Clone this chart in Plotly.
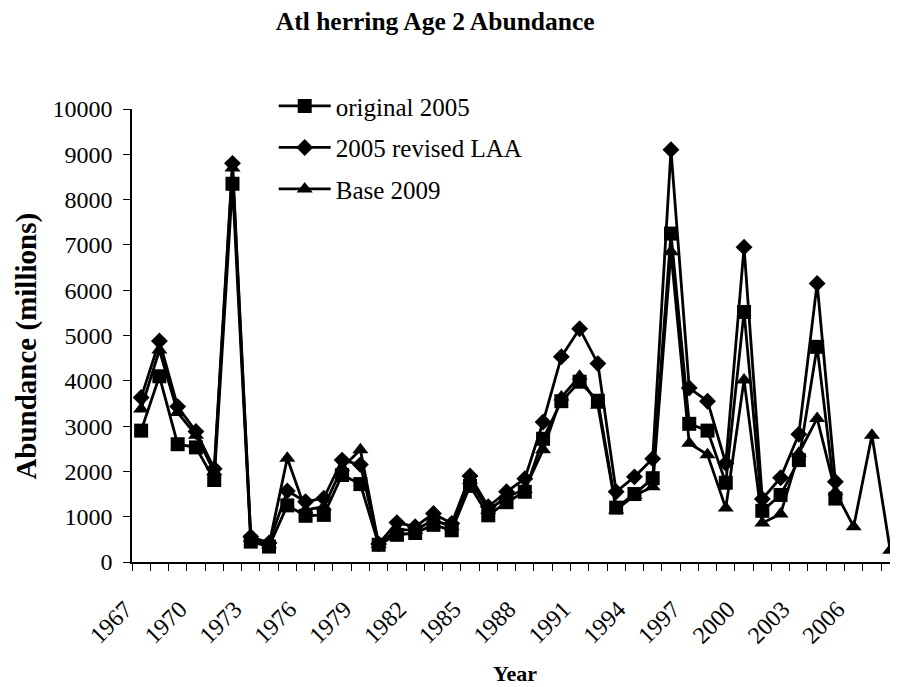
import plotly.graph_objects as go

# Atlantic herring age-2 abundance (millions)
years = list(range(1967, 2009))

original_2005 = [2900, 4100, 2600, 2530, 1810, 8350, 450, 340, 1250, 1020,
                 1040, 1920, 1720, 380, 600, 640, 820, 700, 1680, 1030,
                 1320, 1550, 2720, 3550, 3980, 3560, 1200, 1500, 1850, 7250,
                 3050, 2900, 1750, 5520, 1130, 1480, 2250, 4750, 1400]

revised_laa = [3630, 4880, 3430, 2880, 2060, 8800, 560, 420, 1570, 1330,
               1410, 2250, 2150, 400, 870, 780, 1070, 850, 1900, 1220,
               1550, 1840, 3090, 4530, 5150, 4380, 1550, 1880, 2280, 9100,
               3840, 3550, 2180, 6950, 1390, 1860, 2820, 6150, 1770]

base_2009 = [3380, 4680, 3300, 2800, 1990, 8700, 520, 380, 2290, 1150,
             1220, 2080, 2480, 390, 720, 700, 930, 780, 1800, 1140,
             1440, 1600, 2480, 3640, 4100, 3460, 1150, 1470, 1660, 6850,
             2620, 2370, 1190, 4020, 860, 1060, 2400, 3170, 1550, 780,
             2800, 260]

label_years = list(range(1967, 2007, 3))

FONT = "Liberation Serif, Times New Roman, serif"

# the page body adds an 8px margin, so the figure is 8px smaller
W, H = 890, 679

series = [
    ("original 2005", original_2005, "square", 14),
    ("2005 revised LAA", revised_laa, "diamond", 13),
    ("Base 2009", base_2009, "triangle-up", 14),
]

fig = go.Figure()
for name, vals, sym, size in series:
    fig.add_trace(go.Scatter(
        x=years[:len(vals)], y=vals, name=name, legendgroup=name,
        mode="lines+markers",
        line=dict(color="black", width=2.8),
        marker=dict(symbol=sym, size=size, color="black"),
        cliponaxis=False,
    ))

fig.update_layout(
    width=W, height=H,
    margin=dict(l=124, r=0, t=101, b=125, autoexpand=False),
    paper_bgcolor="white", plot_bgcolor="white",
    font=dict(family=FONT, size=24, color="black"),
    title=dict(text="<b>Atl herring Age 2 Abundance</b>",
               font=dict(size=25.5), x=0.48, xanchor="center",
               y=1 - 4 / H, yanchor="top", pad=dict(t=0, b=0)),
    legend=dict(x=0.185, y=1.057, xanchor="left", yanchor="top",
                bgcolor="rgba(0,0,0,0)", font=dict(size=25),
                tracegroupgap=6, itemwidth=52),
    showlegend=True,
    annotations=[dict(text="<b>Abundance (millions)</b>", textangle=-90,
                      xref="paper", yref="paper", x=-0.1375, y=0.477,
                      xanchor="center", yanchor="middle", showarrow=False,
                      font=dict(size=29))],
)

fig.update_xaxes(
    range=[1966.5, 1966.5 + 766 / 18.27],
    tickmode="array", tickvals=label_years,
    ticktext=[str(y) for y in label_years],
    tickangle=-45, ticks="",
    ticklabelshift=-16, ticklabelstandoff=22,
    showline=True, linecolor="black", linewidth=1.5,
    showgrid=False, zeroline=False, automargin=False,
    minor=dict(tickmode="linear", tick0=1966.5, dtick=1,
               ticks="outside", ticklen=7, tickcolor="black", tickwidth=1,
               showgrid=False),
    title=dict(text="<b>Year</b>", font=dict(size=22), standoff=18),
)

fig.update_yaxes(
    range=[0, 10000], tickmode="linear", tick0=0, dtick=1000,
    tickformat="d",
    ticks="outside", ticklen=7, tickcolor="black", tickwidth=1,
    ticklabelstandoff=6,
    showline=True, linecolor="black", linewidth=1.5,
    showgrid=False, zeroline=False, automargin=False,
)

fig.write_html("out.html")
